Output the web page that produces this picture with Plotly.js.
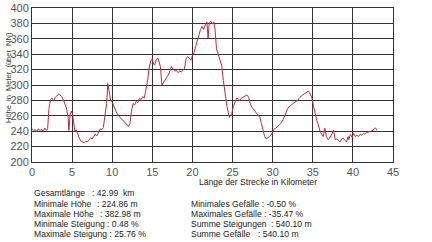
<!DOCTYPE html>
<html>
<head>
<meta charset="utf-8">
<script src="https://cdn.plot.ly/plotly-3.0.1.min.js"></script>
<style>html,body{margin:0;padding:0;background:#fff;}#chart{width:432px;height:242px;}</style>
</head>
<body>
<div id="chart"></div>
<script>
// Distance along the route (km)
const distanceKm = [
  0,0.2,0.4,0.6,0.8,1.0,1.2,1.4,1.6,1.8,1.95,2.1,2.3,2.5,2.7,2.9,3.1,3.3,3.5,3.7,3.9,4.1,4.3,4.5,4.6,4.75,4.9,5.05,5.2,5.35,
  5.5,5.7,5.9,6.1,6.3,6.5,6.7,6.9,7.1,7.3,7.5,7.7,7.9,8.1,8.3,8.5,8.7,8.9,9.1,9.3,9.45,9.6,9.8,10.0,10.2,10.5,10.8,11.1,11.4,11.7,
  12.0,12.2,12.4,12.6,12.8,13.0,13.2,13.4,13.6,13.8,14.0,14.2,14.4,14.6,14.8,15.0,15.15,15.3,15.5,15.7,15.85,16.0,16.2,16.4,16.6,16.8,17.0,17.2,17.4,17.6,
  17.8,18.0,18.2,18.4,18.6,18.8,19.0,19.2,19.4,19.6,19.8,20.0,20.2,20.4,20.6,20.8,21.0,21.2,21.4,21.6,21.8,21.95,22.1,22.3,22.5,22.65,22.8,23.0,23.2,23.4,
  23.65,23.85,24.05,24.3,24.6,24.9,25.1,25.3,25.5,25.7,25.9,26.1,26.35,26.6,26.8,27.0,27.2,27.4,27.6,27.8,28.0,28.2,28.4,28.6,28.8,29.0,29.2,29.4,29.6,29.8,
  30.0,30.2,30.4,30.6,30.8,31.0,31.3,31.6,31.9,32.2,32.5,32.8,33.1,33.4,33.75,34.0,34.2,34.45,34.7,34.9,35.1,35.3,35.5,35.7,35.9,36.1,36.3,36.5,36.7,36.9,
  37.1,37.3,37.5,37.6,37.8,38.0,38.2,38.4,38.6,38.8,39.0,39.2,39.4,39.5,39.7,39.9,40.1,40.3,40.5,40.7,40.9,41.1,41.3,41.5,41.7,41.9,42.1,42.3,42.5,42.7,
  42.85,42.99
];
// Elevation (m above NN)
const elevationM = [
  243,241,242,240,243,241,242,240,244,241,243,268,281,283,279,284,286,288,287,285,281,276,270,258,241,262,266,262,250,240,
  242,236,231,227,226,225,227,226,229,231,230,234,236,234,239,243,242,245,261,276,302,290,280,278,272,265,260,257,254,250,
  246,250,266,276,274,279,277,283,281,285,283,292,305,322,331,334,327,326,333,335,330,324,300,304,306,310,313,318,324,320,
  318,319,316,318,317,319,321,334,337,335,332,338,342,350,358,366,372,376,372,378,382,361,381,383,379,382,374,347,341,334,
  325,306,287,272,258,263,272,278,283,282,280,283,284,286,287,284,276,271,269,265,263,261,258,250,240,233,230,231,233,235,
  240,243,244,246,248,250,255,262,270,273,276,278,280,284,287,289,290,292,288,283,272,262,254,248,240,236,233,244,233,229,
  231,235,240,241,229,230,228,226,230,231,228,226,233,229,236,232,237,233,235,233,236,235,237,236,238,239,239,240,241,244,
  244,241
];
const xTicks = [0,5,10,15,20,25,30,35,40,45];
const yTicks = [200,220,240,260,280,300,320,340,360,380,400];

const statsLeftLabels = ["Gesamtlänge", "Minimale Höhe", "Maximale Höhe", "Minimale Steigung", "Maximale Steigung"];
const statsLeftValues = [": 42.99  km", ": 224.86 m", ": 382.98 m", ": 0.48 %", ": 25.76 %"];
const statsRightLabels = ["Minimales Gefälle", "Maximales Gefälle", "Summe Steigungen", "Summe Gefälle"];
const statsRightValues = [": -0.50 %", ": -35.47 %", ": 540.10 m", ": 540.10 m"];

const yAxisTitle = "Höhe  in  Meter  (über  NN)";
const xAxisTitle = "Länge der Strecke in Kilometer";

// layout geometry (pixels)
const W = 432, H = 242;
const L = 32, R = 393, T = 8, B = 162;
const px = x => (x - L) / (R - L);
const py = y => (B - y) / (B - T);
const FONT = "Liberation Sans, Arial, sans-serif";
const SF = 8.6;

const annotations = [];
function txt(text, x, y, opts) {
  annotations.push(Object.assign({
    text: text, xref: 'paper', yref: 'paper', x: px(x), y: py(y),
    xanchor: 'left', yanchor: 'middle', showarrow: false,
    font: {family: FONT, size: SF, color: '#222'}
  }, opts || {}));
}
// Axis titles
txt(yAxisTitle, 8, 78, {xanchor: 'center', textangle: -90, font: {family: FONT, size: 7.5, color: '#333'}});
txt(xAxisTitle, 258, 182, {xanchor: 'center'});
// Stats (left column)
const leftRows = [193, 203.5, 214, 224, 234];
const leftValX = [90, 95, 98, null, null];
statsLeftLabels.forEach((lab, i) => {
  if (leftValX[i] !== null) {
    txt(lab, 32, leftRows[i]);
    txt(statsLeftValues[i], leftValX[i], leftRows[i]);
  } else {
    txt(lab + " " + statsLeftValues[i], 32, leftRows[i]);
  }
});
// Stats (right column)
const rightRows = [203.5, 214, 224, 234];
const rightValX = [null, null, 269, 256];
statsRightLabels.forEach((lab, i) => {
  if (rightValX[i] !== null) {
    txt(lab, 189, rightRows[i]);
    txt(statsRightValues[i], rightValX[i], rightRows[i]);
  } else {
    txt(lab + " " + statsRightValues[i], 189, rightRows[i]);
  }
});

const trace = {
  x: distanceKm, y: elevationM, type: 'scatter', mode: 'lines',
  line: {color: '#b5313f', width: 1},
  hoverinfo: 'skip'
};

const layout = {
  width: W, height: H,
  margin: {l: L, r: W - R, t: T, b: H - B, pad: 0},
  paper_bgcolor: '#fff', plot_bgcolor: '#fff',
  showlegend: false,
  xaxis: {
    range: [0, 45], tickvals: xTicks, ticktext: xTicks.map(String),
    showgrid: true, gridcolor: '#333', gridwidth: 1,
    zeroline: false, showline: true, linecolor: '#333', linewidth: 1, mirror: true,
    ticks: '', tickfont: {family: FONT, size: 11, color: '#555'}, fixedrange: true
  },
  yaxis: {
    range: [200, 400], tickvals: yTicks, ticktext: yTicks.map(String),
    showgrid: true, gridcolor: '#333', gridwidth: 1,
    zeroline: false, showline: true, linecolor: '#333', linewidth: 1, mirror: true,
    ticks: '', tickfont: {family: FONT, size: 11, color: '#555'}, fixedrange: true
  },
  annotations: annotations
};

Plotly.newPlot('chart', [trace], layout, {displayModeBar: false, staticPlot: true});
</script>
</body>
</html>
